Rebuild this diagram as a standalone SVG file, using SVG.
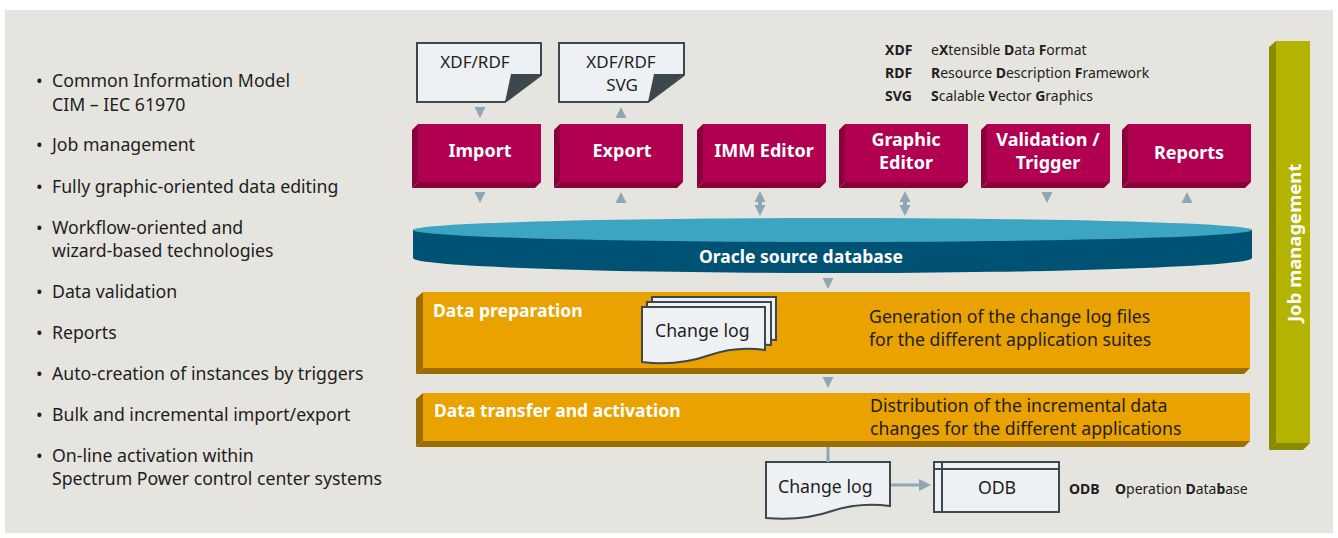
<svg xmlns="http://www.w3.org/2000/svg" xmlns:xlink="http://www.w3.org/1999/xlink" width="1338" height="538" viewBox="0 0 1338 538">
<style>
text{font-family:"Noto Sans","Open Sans","Liberation Sans",sans-serif;}
.bl{font-size:17.7px;fill:#1e1e1e;}
.bw{font-size:18px;font-weight:700;fill:#ffffff;}
.tw{font-size:17.5px;font-weight:700;fill:#ffffff;}
.doc{fill:#eef1f4;stroke:#3d474d;stroke-width:2;}
.fold{fill:#3d474d;}
.dt{font-size:17px;fill:#1e1e1e;}
.lg{font-size:14px;fill:#1e1e1e;}
.b{font-weight:700;}
.arr{fill:#8ea7b4;}
.ln{stroke:#8ea7b4;stroke-width:3;fill:none;}
.mf{fill:#b0004f;}
.ms{fill:#8a003d;}
.of{fill:#eaa200;}
.os{fill:#9b6c00;}
</style>
<defs>
<path id="td" d="M-5.5,0 H5.5 L0,11 Z"/>
<path id="tu" d="M-5.5,11 H5.5 L0,0 Z"/>
<g id="mbox">
<polygon class="ms" points="-6,130 0,124 0,182 -6,188"/>
<polygon class="ms" points="-6,188 0,182 123,182 117,188"/>
<rect class="mf" x="0" y="124" width="123" height="58"/>
</g>
</defs>
<rect x="0" y="0" width="1338" height="538" fill="#ffffff"/>
<rect x="5" y="10" width="1328" height="523" fill="#e5e4de"/>

<g id="features">
<text class="bl" x="36" y="87">•</text><text class="bl" x="52" y="87">Common Information Model</text>
<text class="bl" x="52" y="111">CIM – IEC 61970</text>
<text class="bl" x="36" y="151">•</text><text class="bl" x="52" y="151">Job management</text>
<text class="bl" x="36" y="193">•</text><text class="bl" x="52" y="193">Fully graphic-oriented data editing</text>
<text class="bl" x="36" y="234">•</text><text class="bl" x="52" y="234">Workflow-oriented and</text>
<text class="bl" x="52" y="257">wizard-based technologies</text>
<text class="bl" x="36" y="298">•</text><text class="bl" x="52" y="298">Data validation</text>
<text class="bl" x="36" y="339">•</text><text class="bl" x="52" y="339">Reports</text>
<text class="bl" x="36" y="380">•</text><text class="bl" x="52" y="380">Auto-creation of instances by triggers</text>
<text class="bl" x="36" y="421">•</text><text class="bl" x="52" y="421">Bulk and incremental import/export</text>
<text class="bl" x="36" y="462">•</text><text class="bl" x="52" y="462">On-line activation within</text>
<text class="bl" x="52" y="485">Spectrum Power control center systems</text>
</g>

<g id="doc-import">
<path class="doc" d="M417,43 H541 V75 L505,102 H417 Z"/>
<path class="fold" d="M505,102 L511,74 H541 Z"/>
<text class="dt" x="475" y="68" text-anchor="middle">XDF/RDF</text>
</g>
<g id="doc-export">
<path class="doc" d="M559,43 H684 V75 L648,102 H559 Z"/>
<path class="fold" d="M648,102 L654,74 H684 Z"/>
<text class="dt" x="621" y="68" text-anchor="middle">XDF/RDF</text>
<text class="dt" x="622" y="91" text-anchor="middle">SVG</text>
</g>

<g id="legend">
<text class="lg b" x="885" y="55">XDF</text>
<text class="lg" x="931" y="55">e<tspan class="b">X</tspan>tensible <tspan class="b">D</tspan>ata <tspan class="b">F</tspan>ormat</text>
<text class="lg b" x="885" y="78">RDF</text>
<text class="lg" x="931" y="78"><tspan class="b">R</tspan>esource <tspan class="b">D</tspan>escription <tspan class="b">F</tspan>ramework</text>
<text class="lg b" x="885" y="101">SVG</text>
<text class="lg" x="931" y="101"><tspan class="b">S</tspan>calable <tspan class="b">V</tspan>ector <tspan class="b">G</tspan>raphics</text>
</g>

<g id="import"><use xlink:href="#mbox" x="418" y="0"/><text class="bw" x="480" y="157" text-anchor="middle">Import</text></g>
<g id="export"><use xlink:href="#mbox" x="560" y="0"/><text class="bw" x="622" y="157" text-anchor="middle">Export</text></g>
<g id="imm-editor"><use xlink:href="#mbox" x="703" y="0"/><text class="bw" x="764" y="157" text-anchor="middle">IMM Editor</text></g>
<g id="graphic-editor"><use xlink:href="#mbox" x="845" y="0"/><text class="bw" x="906" y="146" text-anchor="middle">Graphic</text><text class="bw" x="906" y="169" text-anchor="middle">Editor</text></g>
<g id="validation-trigger"><use xlink:href="#mbox" x="987" y="0"/><text class="bw" x="1048" y="146" text-anchor="middle">Validation /</text><text class="bw" x="1048" y="169" text-anchor="middle">Trigger</text></g>
<g id="reports"><use xlink:href="#mbox" x="1128" y="0"/><text class="bw" x="1189" y="159" text-anchor="middle">Reports</text></g>

<g id="oracle-db">
<path fill="#005274" d="M413,230 V258 A419.5,15 0 0 0 1252,258 V230 Z"/>
<ellipse cx="832.5" cy="230" rx="419.5" ry="12" fill="#3ca5c2"/>
<text class="tw" x="801" y="263" text-anchor="middle">Oracle source database</text>
</g>

<g id="data-preparation">
<polygon class="os" points="416,298 423,292 423,368 416,374"/>
<polygon class="os" points="416,374 423,368 1250,368 1244,374"/>
<rect class="of" x="423" y="292" width="827" height="76"/>
<text class="tw" x="433" y="317">Data preparation</text>
<path class="doc" d="M652,297 H776 V340 C755,338 735,342 718,348 C700,354 675,356 652,352 Z"/>
<path class="doc" d="M647,302 H771 V345 C750,343 730,347 713,353 C695,359 670,361 647,357 Z"/>
<path class="doc" d="M642,307 H765 V350 C745,347 727,349 710,355 C690,362 665,365 642,362 Z"/>
<text class="bl" x="655" y="337">Change log</text>
<text class="bl" x="869" y="323">Generation of the change log files</text>
<text class="bl" x="869" y="346">for the different application suites</text>
</g>

<g id="data-transfer">
<polygon class="os" points="416,399 423,393 423,441 416,447"/>
<polygon class="os" points="416,447 423,441 1250,441 1244,447"/>
<rect class="of" x="423" y="393" width="827" height="48"/>
<text class="tw" x="434" y="417">Data transfer and activation</text>
<text class="bl" x="870" y="412">Distribution of the incremental data</text>
<text class="bl" x="870" y="435">changes for the different applications</text>
</g>

<g id="job-management">
<polygon fill="#8a8a00" points="1269,47 1276,41 1276,443 1269,450"/>
<polygon fill="#8a8a00" points="1269,450 1276,443 1310,443 1303,450"/>
<rect x="1276" y="41" width="34" height="402" fill="#b4b300"/>
<text class="tw" style="font-size:18.5px" transform="translate(1301,322) rotate(-90)">Job management</text>
</g>

<g id="change-log-out">
<path class="doc" d="M766,462 H890 V506 C868,503 850,505 832,511 C812,518 790,520 766,518 Z"/>
<text class="bl" x="778" y="493">Change log</text>
</g>

<g id="odb">
<rect class="doc" x="934" y="462" width="125" height="50"/>
<path d="M934,469 H1059 M942,462 V512" stroke="#3d474d" stroke-width="2" fill="none"/>
<text class="bl" x="997" y="494" text-anchor="middle">ODB</text>
<text class="lg b" x="1069" y="494">ODB</text>
<text class="lg" x="1115" y="494"><tspan class="b">O</tspan>peration <tspan class="b">D</tspan>ata<tspan class="b">b</tspan>ase</text>
</g>

<g id="connectors">
<use class="arr" xlink:href="#td" x="480" y="107"/>
<use class="arr" xlink:href="#tu" x="621" y="107"/>
<use class="arr" xlink:href="#td" x="480" y="192"/>
<use class="arr" xlink:href="#tu" x="621" y="192"/>
<use class="arr" xlink:href="#tu" x="760" y="191"/>
<rect class="arr" x="758" y="201" width="4" height="4"/>
<use class="arr" xlink:href="#td" x="760" y="205"/>
<use class="arr" xlink:href="#tu" x="905" y="191"/>
<rect class="arr" x="903" y="201" width="4" height="4"/>
<use class="arr" xlink:href="#td" x="905" y="205"/>
<use class="arr" xlink:href="#td" x="1047" y="192"/>
<use class="arr" xlink:href="#tu" x="1187" y="192"/>
<use class="arr" xlink:href="#td" x="828" y="278"/>
<use class="arr" xlink:href="#td" x="828" y="377"/>
<line class="ln" x1="828" y1="447" x2="828" y2="462"/>
<line class="ln" x1="891" y1="485" x2="920" y2="485"/>
<polygon class="arr" points="919,479 931,485 919,491"/>
</g>
</svg>
